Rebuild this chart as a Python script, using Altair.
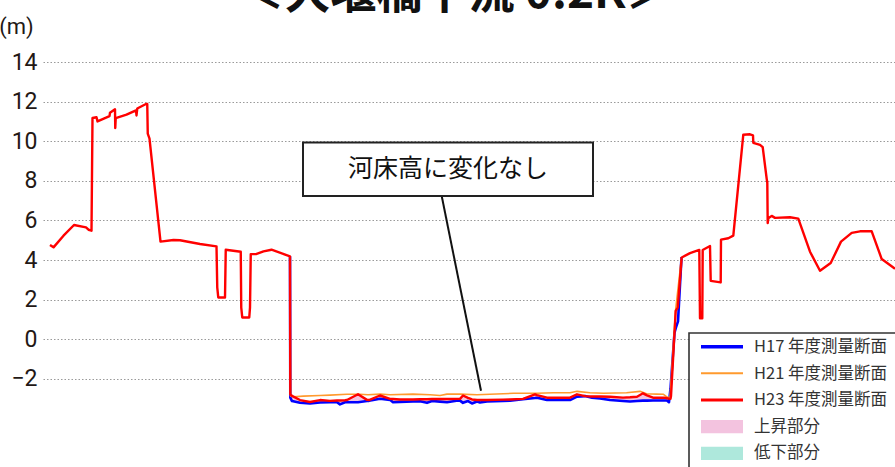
import altair as alt
import pandas as pd

# Cross-section 0.2 km downstream of the weir.
# Distance across the section in metres, elevation in metres.

# Left bank (all three surveys coincide here; the H23 line is drawn)
LEFT_DIST = [1.4, 2.1, 4.1, 6.2, 8.6, 9.1, 9.7, 9.9, 10.7, 10.9, 13.3, 13.4, 14.4, 14.45,
             14.55, 16.7, 18.6, 18.7, 18.85, 20.6, 20.85, 20.95, 21.3, 23.5, 26.1, 27.4,
             31.4, 34.7, 34.85, 35.05, 36.4, 36.55, 39.55, 39.65, 39.85, 41.25, 41.4,
             41.55, 42.6, 44.1, 45.7, 49.4]
LEFT_ELEV = [4.76, 4.64, 5.23, 5.77, 5.65, 5.53, 5.48, 11.17, 11.21, 11.0, 11.27, 11.44,
             11.61, 10.67, 11.17, 11.34, 11.56, 11.30, 11.65, 11.88, 11.88, 10.38, 10.13,
             4.93, 5.01, 5.0, 4.81, 4.69, 2.62, 2.11, 2.11, 4.52, 4.42, 1.6, 1.1, 1.1,
             1.6, 4.30, 4.30, 4.44, 4.52, 4.19]

# River bed, shared stations for the H17 and H23 surveys
BED_DIST = [49.46, 49.8, 51.4, 53.4, 55.4, 57.4, 58.8, 59.4, 60.4, 60.8, 63.0, 64.8, 65.2,
            67.4, 69.4, 70.0, 71.4, 74.0, 75.4, 76.8, 77.8, 79.4, 80.8, 83.0, 83.4, 84.0,
            85.0, 85.8, 86.8, 87.4, 88.8, 92.0, 93.4, 96.0, 98.4, 98.8, 100.8, 103.4,
            105.4, 106.8, 108.4, 109.8, 111.4, 113.4, 116.0, 117.4, 118.8, 120.0, 120.8,
            122.0, 122.8, 124.2, 124.8, 125.2]
BED_H23 = [-2.78, -2.86, -3.07, -3.17, -3.07, -3.11, -3.09, -3.09, -3.08, -3.07, -2.78,
           -3.06, -3.07, -2.84, -3.01, -3.02, -3.04, -3.04, -3.03, -3.03, -3.02, -3.02,
           -3.02, -3.01, -3.01, -2.84, -2.96, -3.04, -3.07, -3.07, -3.07, -3.05, -3.04,
           -3.01, -2.78, -2.82, -2.95, -2.95, -2.95, -2.78, -2.87, -2.89, -2.89, -2.90,
           -2.95, -2.93, -2.90, -2.73, -2.83, -2.95, -2.95, -2.95, -2.98, -3.0]
BED_H17 = [-2.95, -3.12, -3.21, -3.24, -3.19, -3.18, -3.18, -3.29, -3.18, -3.18, -3.18,
           -3.12, -3.11, -3.0, -3.06, -3.18, -3.16, -3.14, -3.13, -3.21, -3.12, -3.15,
           -3.18, -3.09, -3.10, -3.21, -3.12, -3.24, -3.14, -3.19, -3.14, -3.12, -3.10,
           -3.03, -2.97, -2.95, -3.07, -3.07, -3.07, -2.90, -2.87, -2.95, -2.99, -3.07,
           -3.12, -3.14, -3.12, -3.10, -3.10, -3.09, -3.09, -3.09, -3.09, -3.18]

# H21 survey of the river bed
H21_DIST = [49.4, 49.5, 50.1, 52.1, 55.4, 57.4, 60.8, 63.4, 65.0, 67.4, 69.4, 74.0, 77.4,
            79.4, 80.8, 83.4, 86.8, 89.4, 94.1, 98.8, 102.1, 105.4, 106.8, 109.4, 112.1,
            116.7, 119.4, 120.7, 122.7, 124.1, 124.7, 125.4, 126.5, 127.7]
H21_ELEV = [4.19, -2.86, -2.90, -2.87, -2.84, -2.82, -2.78, -2.78, -2.80, -2.77, -2.80,
            -2.77, -2.80, -2.84, -2.77, -2.77, -2.80, -2.78, -2.73, -2.73, -2.70, -2.70,
            -2.63, -2.70, -2.73, -2.70, -2.63, -2.75, -2.77, -2.78, -2.90, -2.95, 1.43,
            4.13]

# H17 rise up the right bank toe
H17_TOE_DIST = [125.5, 126.3, 126.6, 127.0, 127.7]
H17_TOE_ELEV = [-2.5, 0.34, 0.6, 0.9, 4.15]

# Right bank (H23)
RIGHT_DIST = [125.5, 125.6, 126.54, 126.94, 127.74, 129.4, 131.26, 131.4, 131.86, 131.94,
              133.4, 133.54, 135.54, 135.6, 137.06, 138.06, 140.06, 141.4, 142.0, 142.06,
              143.4, 143.94, 144.74, 144.86, 144.94, 145.06, 145.74, 146.4, 149.4, 151.06,
              153.4, 155.4, 157.54, 159.6, 161.74, 163.4, 165.74, 167.74, 169.86, 170.4]
RIGHT_ELEV = [-3.01, -2.87, 1.43, 1.6, 4.13, 4.35, 4.51, 1.06, 1.06, 4.51, 4.71, 2.95,
              2.87, 5.03, 5.10, 5.23, 10.33, 10.35, 10.3, 9.92, 9.82, 9.7, 8.1, 7.9, 5.87,
              6.11, 6.23, 6.13, 6.16, 6.09, 4.42, 3.46, 3.85, 4.93, 5.37, 5.45, 5.45,
              4.05, 3.66, 3.56]

Y_TICKS = [-2, 0, 2, 4, 6, 8, 10, 12, 14]
TITLE = "＜大堰橋下流 0.2K＞"
NOTE = "河床高に変化なし"
LEGEND_LABELS = ["H17 年度測量断面", "H21 年度測量断面", "H23 年度測量断面", "上昇部分", "低下部分"]

BLUE, ORANGE, RED = "#0000ff", "#ff9a2e", "#ff0000"
PINK, MINT = "#f3c3df", "#aee8dc"
JP = "Noto Sans CJK JP"
NUM_FONT = "Roboto"

# ---- tables ----
red = pd.DataFrame({
    "dist": LEFT_DIST + BED_DIST + RIGHT_DIST,
    "elev": LEFT_ELEV + BED_H23 + RIGHT_ELEV,
})
red["order"] = range(len(red))

blue = pd.DataFrame({
    "dist": [LEFT_DIST[-1]] + BED_DIST + H17_TOE_DIST,
    "elev": [LEFT_ELEV[-1]] + BED_H17 + H17_TOE_ELEV,
})
blue["order"] = range(len(blue))

orange = pd.DataFrame({"dist": H21_DIST, "elev": H21_ELEV})
orange["order"] = range(len(orange))

bed = pd.DataFrame({"dist": BED_DIST, "h17": BED_H17, "h23": BED_H23})
bed["top"] = bed[["h17", "h23"]].max(axis=1)
bed["bottom"] = bed[["h17", "h23"]].min(axis=1)

W, H = 852, 404
x_scale = alt.Scale(domain=[0, 170.4], nice=False, zero=False)
y_scale = alt.Scale(domain=[-6.4, 14], nice=False, zero=False)
X = alt.X("dist:Q", scale=x_scale, axis=None)
Y_AXIS = alt.Axis(values=Y_TICKS, grid=True, gridColor="#9a9a9a", gridDash=[1.5, 2],
                  gridWidth=1.2, domain=False, ticks=False, labelFont=NUM_FONT,
                  labelFontSize=23, labelColor="#231815", labelPadding=6, title=None,
                  labelFlush=False)

rise = alt.Chart(bed).mark_area(color=PINK, opacity=1).encode(
    x=X, y=alt.Y("h17:Q", scale=y_scale, axis=Y_AXIS), y2="top:Q")
fall = alt.Chart(bed).mark_area(color=MINT, opacity=1).encode(
    x=X, y=alt.Y("bottom:Q", scale=y_scale), y2="h17:Q")

def profile(df, color, width):
    return alt.Chart(df).mark_line(color=color, strokeWidth=width, strokeJoin="round").encode(
        x=X, y=alt.Y("elev:Q", scale=y_scale), order="order:Q")

blue_line = profile(blue, BLUE, 2.6)
orange_line = profile(orange, ORANGE, 1.6)
red_line = profile(red, RED, 2.4)

# callout box, text and leader (in section coordinates)
note_box = pd.DataFrame({"x": [52.0], "x2": [110.0], "y": [9.94], "y2": [7.23]})
note_text = pd.DataFrame({"x": [81.0], "y": [8.58], "t": [NOTE]})
leader = pd.DataFrame({"x": [79.74], "x2": [87.6], "y": [7.23], "y2": [-2.6]})

box = alt.Chart(note_box).mark_rect(fill="white", stroke="#222", strokeWidth=2).encode(
    x=alt.X("x:Q", scale=x_scale), x2="x2:Q", y=alt.Y("y:Q", scale=y_scale), y2="y2:Q")
note = alt.Chart(note_text).mark_text(font=JP, fontSize=25, color="#111",
                                      baseline="middle", align="center").encode(
    x=alt.X("x:Q", scale=x_scale), y=alt.Y("y:Q", scale=y_scale), text="t:N")
lead = alt.Chart(leader).mark_rule(color="#111", strokeWidth=2).encode(
    x=alt.X("x:Q", scale=x_scale), x2="x2:Q", y=alt.Y("y:Q", scale=y_scale), y2="y2:Q")

# legend panel, bottom right
legend_frame = alt.Chart(pd.DataFrame({"a": [0]})).mark_rect(
    fill="white", stroke="#333", strokeWidth=1.6).encode(
    x=alt.value(646), x2=alt.value(880), y=alt.value(271), y2=alt.value(430))

leg_rows = pd.DataFrame({
    "label": LEGEND_LABELS,
    "ty": [285, 311.5, 338, 365, 391],
})
legend_parts = [legend_frame]
for color, yv, w in [(BLUE, 284.7, 3.6), (ORANGE, 311.3, 2.0), (RED, 338, 3.0)]:
    legend_parts.append(alt.Chart(pd.DataFrame({"a": [0]})).mark_rule(
        color=color, strokeWidth=w).encode(
        x=alt.value(658), x2=alt.value(700), y=alt.value(yv)))
for color, y0 in [(PINK, 358), (MINT, 384.7)]:
    legend_parts.append(alt.Chart(pd.DataFrame({"a": [0]})).mark_rect(
        fill=color).encode(
        x=alt.value(658), x2=alt.value(700), y=alt.value(y0), y2=alt.value(y0 + 13.3)))
for label, ty in zip(leg_rows["label"], leg_rows["ty"]):
    legend_parts.append(alt.Chart(pd.DataFrame({"t": [label]})).mark_text(
        font=JP, fontSize=16.5, color="#333", align="left", baseline="middle").encode(
        x=alt.value(711), y=alt.value(ty), text="t:N"))

title = alt.Chart(pd.DataFrame({"t": [TITLE]})).mark_text(
    font=JP, fontSize=46, fontWeight="bold", color="#111", align="center",
    baseline="alphabetic").encode(x=alt.value(412), y=alt.value(-54), text="t:N")
unit = alt.Chart(pd.DataFrame({"t": ["(m)"]})).mark_text(
    font=NUM_FONT, fontSize=22, color="#231815", align="center",
    baseline="alphabetic").encode(x=alt.value(-26.5), y=alt.value(-28), text="t:N")

chart = alt.layer(
    rise, fall, blue_line, orange_line, red_line, lead, box, note,
    *legend_parts, title, unit,
).properties(
    width=W, height=H,
    background="white",
    autosize=alt.AutoSizeParams(type="none"),
    padding={"left": 43, "top": 62, "right": 0, "bottom": 1},
).configure_view(stroke=None)

chart.save("out.html", embed_options={"renderer": "svg", "actions": False})
